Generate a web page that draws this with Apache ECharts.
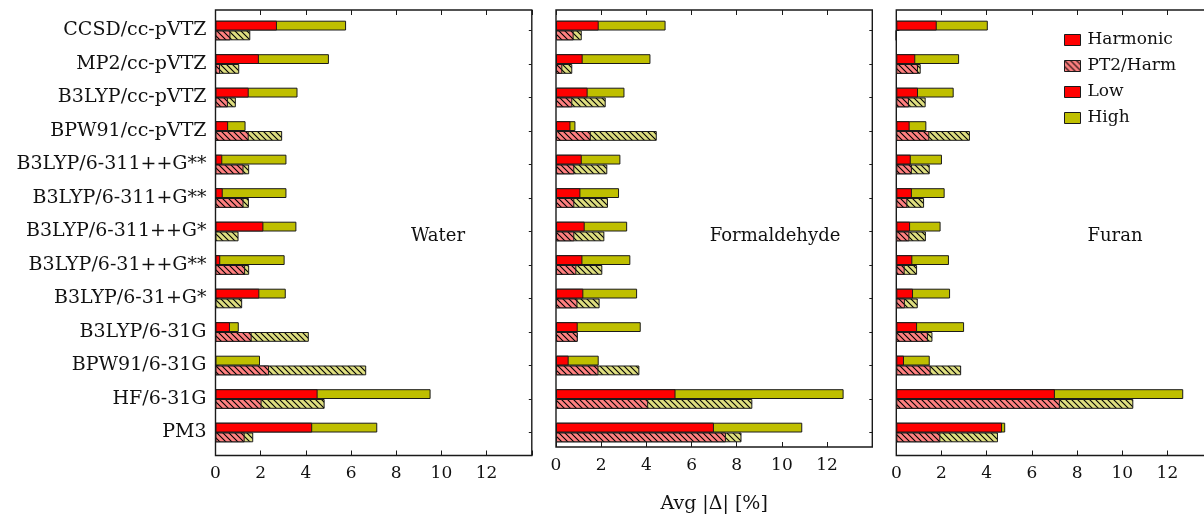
<!DOCTYPE html>
<html>
<head>
<meta charset="utf-8">
<script src="https://cdn.jsdelivr.net/npm/echarts@6/dist/echarts.min.js"></script>
<style>
html,body{margin:0;padding:0;background:#fff;overflow:hidden;width:1204px;height:519px;}
#chart{width:1218px;height:519px;}
</style>
</head>
<body>
<div id="chart"></div>
<script>
// ---------- data ----------
const categories = ['CCSD/cc-pVTZ','MP2/cc-pVTZ','B3LYP/cc-pVTZ','BPW91/cc-pVTZ','B3LYP/6-311++G**','B3LYP/6-311+G**','B3LYP/6-311++G*','B3LYP/6-31++G**','B3LYP/6-31+G*','B3LYP/6-31G','BPW91/6-31G','HF/6-31G','PM3'];
const panelNames = ['Water','Formaldehyde','Furan'];
const xTicks = [0,2,4,6,8,10,12];

// Harmonic (solid) bars: low (red) and high (olive)
const waterHarmLow  = [2.72,1.92,1.47,0.56,0.30,0.32,2.12,0.21,1.94,0.64,0,4.52,4.28];
const waterHarmHigh = [5.78,5.02,3.63,1.33,3.14,3.14,3.58,3.06,3.11,1.03,1.97,9.52,7.16];
// PT2/Harm (hatched) bars
const waterPT2Low   = [0.66,0.20,0.55,1.47,1.24,1.24,0,1.31,0,1.60,2.37,2.04,1.29];
const waterPT2High  = [1.54,1.05,0.90,2.95,1.49,1.48,1.02,1.49,1.18,4.13,6.67,4.83,1.67];

const formHarmLow   = [1.89,1.18,1.40,0.64,1.14,1.08,1.27,1.17,1.21,0.96,0.56,5.29,6.99];
const formHarmHigh  = [4.85,4.18,3.03,0.86,2.85,2.79,3.15,3.29,3.59,3.75,1.89,12.73,10.90];
const formPT2Low    = [0.78,0.28,0.72,1.54,0.81,0.81,0.81,0.90,0.95,0.96,1.88,4.08,7.52];
const formPT2High   = [1.14,0.72,2.20,4.46,2.27,2.30,2.14,2.05,1.93,0.96,3.69,8.69,8.21];

const furanHarmLow  = [1.79,0.84,0.96,0.59,0.64,0.69,0.61,0.71,0.74,0.92,0.34,7.02,4.68];
const furanHarmHigh = [4.05,2.78,2.54,1.33,2.02,2.14,1.96,2.33,2.38,3.00,1.48,12.70,4.82];
const furanPT2Low   = [0,0.96,0.56,1.46,0.69,0.49,0.58,0.37,0.38,1.40,1.52,7.24,1.95];
const furanPT2High  = [0,1.08,1.30,3.26,1.48,1.23,1.31,0.92,0.95,1.60,2.87,10.49,4.50];

const panels = [
  {harmLow: waterHarmLow, harmHigh: waterHarmHigh, pt2Low: waterPT2Low, pt2High: waterPT2High},
  {harmLow: formHarmLow,  harmHigh: formHarmHigh,  pt2Low: formPT2Low,  pt2High: formPT2High},
  {harmLow: furanHarmLow, harmHigh: furanHarmHigh, pt2Low: furanPT2Low, pt2High: furanPT2High}
];

// ---------- styles ----------
const RED = '#ff0000', OLIVE = '#bfbf00', LRED = '#ff8080', LOLIVE = '#dede80';
const EDGE = '#1a1a1a';
const FONT = 'DejaVu Serif';

function hatch(bg) {
  const s = 6;
  const c = document.createElement('canvas');
  c.width = s; c.height = s;
  const g = c.getContext('2d');
  g.fillStyle = bg; g.fillRect(0, 0, s, s);
  g.strokeStyle = '#000'; g.lineWidth = 1.1;
  g.beginPath();
  g.moveTo(0, 0); g.lineTo(s, s);
  g.moveTo(-1, s - 1); g.lineTo(1, s + 1);
  g.moveTo(s - 1, -1); g.lineTo(s + 1, 1);
  g.stroke();
  return {image: c, repeat: 'repeat'};
}
const hatchRed = hatch(LRED), hatchOlive = hatch(LOLIVE);

// panel geometry (pixels)
const panelLeft = [215.5, 556, 896.3];
const panelWidth = 316.3;
const frameTop = 10, frameHeight = 445.5;
const dataTop = 13.75, dataHeight = 435.5;

const grid = [], xAxis = [], yAxis = [], series = [], graphic = [];

for (let p = 0; p < 3; p++) {
  grid.push({left: panelLeft[p], width: panelWidth, top: dataTop, height: dataHeight, show: false});
}
for (let p = 0; p < 3; p++) {
  grid.push({left: panelLeft[p], width: panelWidth, top: frameTop, height: frameHeight,
             show: true, borderColor: EDGE, borderWidth: 1.4, backgroundColor: 'transparent'});
}
// data x axes 0..2
for (let p = 0; p < 3; p++) {
  xAxis.push({type: 'value', gridIndex: p, min: 0, max: 14, show: false});
}
// frame bottom x axes 3..5
for (let p = 0; p < 3; p++) {
  xAxis.push({type: 'value', gridIndex: 3 + p, min: 0, max: 14, interval: 2, position: 'bottom',
    axisLine: {show: false}, splitLine: {show: false},
    axisTick: {show: true, inside: true, length: 5, lineStyle: {color: EDGE, width: 1}},
    axisLabel: {show: true, margin: 10, fontFamily: FONT, fontSize: 17, color: '#111',
      formatter: v => (xTicks.indexOf(v) >= 0 ? String(v) : '')},
    name: p === 1 ? 'Avg |Δ| [%]' : '', nameLocation: 'middle', nameGap: 48,
    nameTextStyle: {fontFamily: FONT, fontSize: 19, color: '#111'}
  });
}
// frame top x axes 6..8
for (let p = 0; p < 3; p++) {
  xAxis.push({type: 'value', gridIndex: 3 + p, min: 0, max: 14, interval: 2, position: 'top',
    axisLine: {show: false}, splitLine: {show: false}, axisLabel: {show: false},
    axisTick: {show: true, inside: true, length: 5, lineStyle: {color: EDGE, width: 1}}});
}
// data y axes left 0..2 (labels on panel 1), right 3..5
for (let p = 0; p < 3; p++) {
  yAxis.push({type: 'category', gridIndex: p, data: categories, inverse: true, position: 'left',
    axisLine: {show: false},
    axisTick: {show: true, inside: true, alignWithLabel: true, length: 3, lineStyle: {color: EDGE}},
    axisLabel: {show: p === 0, margin: 9, fontFamily: FONT, fontSize: 19, color: '#111'}});
}
for (let p = 0; p < 3; p++) {
  yAxis.push({type: 'category', gridIndex: p, data: categories, inverse: true, position: 'right',
    axisLine: {show: false}, axisLabel: {show: false},
    axisTick: {show: true, inside: true, alignWithLabel: true, length: 3, lineStyle: {color: EDGE}}});
}
// frame y axes 6..8
for (let p = 0; p < 3; p++) {
  yAxis.push({type: 'value', gridIndex: 3 + p, min: 0, max: 1, show: false});
}

const barBase = {type: 'bar', barWidth: 9.8, barGap: '0%', barCategoryGap: '0%', silent: true, animation: false};

for (let p = 0; p < 3; p++) {
  const d = panels[p];
  // olive (high) bars on the right-hand category axis
  series.push(Object.assign({}, barBase, {name: 'High', xAxisIndex: p, yAxisIndex: 3 + p, z: 2,
    data: d.harmHigh, itemStyle: {color: OLIVE, borderColor: EDGE, borderWidth: 1}}));
  series.push(Object.assign({}, barBase, {name: 'PT2/Harm High', xAxisIndex: p, yAxisIndex: 3 + p, z: 2,
    data: d.pt2High, itemStyle: {color: hatchOlive, borderColor: EDGE, borderWidth: 1}}));
  // red (low) bars on the left-hand category axis, drawn over the olive ones
  series.push(Object.assign({}, barBase, {name: 'Harmonic', xAxisIndex: p, yAxisIndex: p, z: 3,
    data: d.harmLow, itemStyle: {color: RED, borderColor: EDGE, borderWidth: 1}}));
  series.push(Object.assign({}, barBase, {name: 'PT2/Harm', xAxisIndex: p, yAxisIndex: p, z: 3,
    data: d.pt2Low, itemStyle: {color: hatchRed, borderColor: EDGE, borderWidth: 1}}));
}
// legend-only entry
series.push({type: 'line', name: 'Low', xAxisIndex: 0, yAxisIndex: 0, data: [],
  itemStyle: {color: RED, borderColor: EDGE, borderWidth: 1}, lineStyle: {width: 0}});

// panel captions
const captionX = [438, 775, 1115];
for (let p = 0; p < 3; p++) {
  graphic.push({type: 'text', x: captionX[p], y: 236, silent: true,
    style: {text: panelNames[p], font: '18px "' + FONT + '"', fill: '#111', align: 'center', verticalAlign: 'middle'}});
}

const option = {
  animation: false,
  backgroundColor: '#fff',
  grid, xAxis, yAxis, series, graphic,
  legend: {
    orient: 'vertical', left: 1064, top: 31, padding: 0,
    data: ['Harmonic','PT2/Harm','Low','High'].map(n => ({name: n, icon: 'rect'})),
    itemWidth: 16, itemHeight: 11, itemGap: 8,
    textStyle: {fontFamily: FONT, fontSize: 17, color: '#111', lineHeight: 18, padding: [0,0,0,2]},
    selectedMode: false,
    itemStyle: {borderColor: EDGE, borderWidth: 1}
  }
};

const chart = echarts.init(document.getElementById('chart'), null, {renderer: 'canvas'});
chart.setOption(option);
</script>
</body>
</html>
